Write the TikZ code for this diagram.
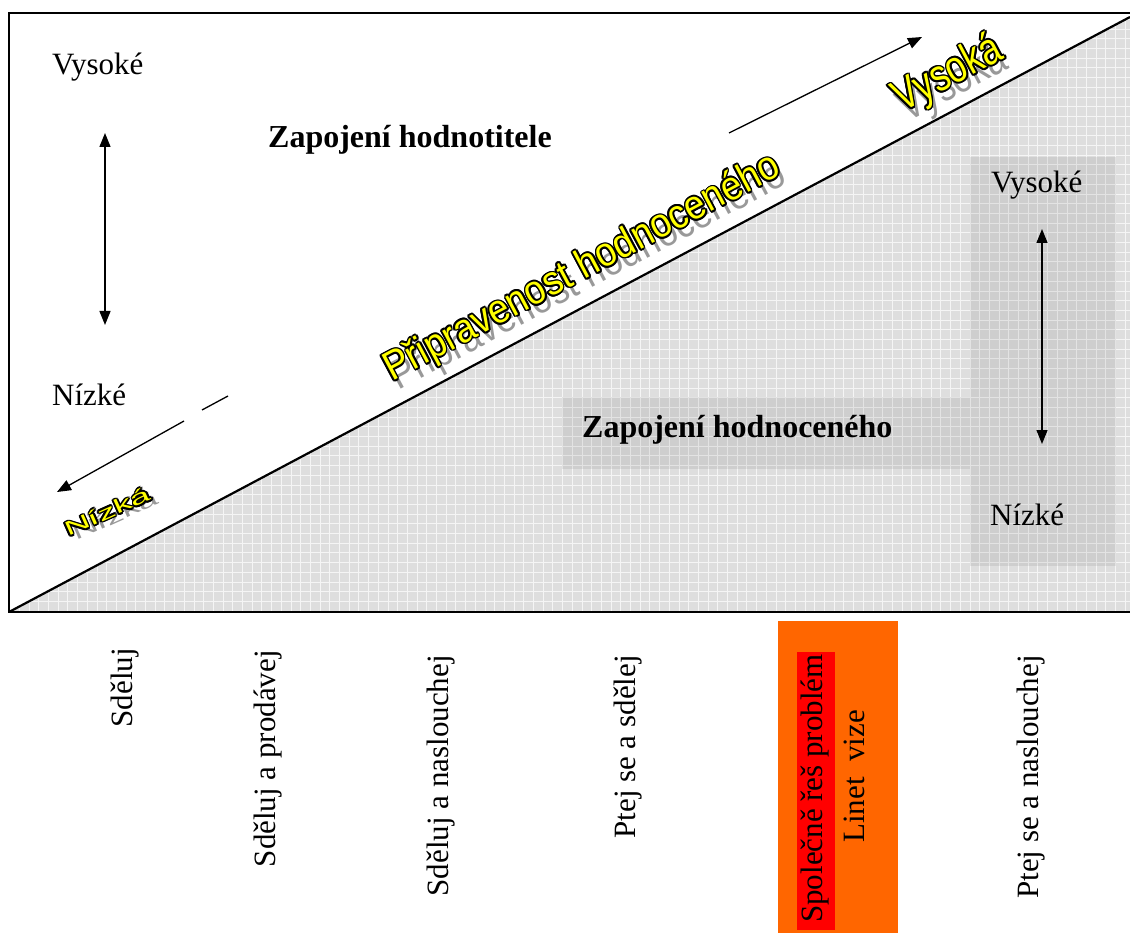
\documentclass[tikz,border=0pt]{standalone}
\usepackage{fontspec}
\setmainfont{Liberation Serif}
\newfontfamily\wafont{Liberation Sans}
\usetikzlibrary{arrows.meta,calc}
\definecolor{orng}{HTML}{FF6600}
\definecolor{wayellow}{HTML}{FFFF00}
\tikzset{
  txt/.style={inner sep=0pt, anchor=base west, font=\fontsize{31}{31}\selectfont},
  btxt/.style={inner sep=0pt, anchor=base west, font=\bfseries\fontsize{32}{32}\selectfont},
  rot/.style={inner sep=0pt, anchor=east, rotate=90, font=\fontsize{31}{31}\selectfont},
  arr/.style={line width=1.3pt, -{Triangle[length=14pt,width=11pt]}},
  darr/.style={line width=1.3pt, {Triangle[length=14pt,width=11pt]}-{Triangle[length=14pt,width=11pt]}},
  wash/.style={inner sep=0pt, anchor=base west, text=black!40, font=\wafont},
  waout/.style={inner sep=0pt, anchor=base west, text=black, font=\wafont},
  wafill/.style={inner sep=0pt, anchor=base west, text=wayellow, font=\wafont},
  panel/.style={fill=black, fill opacity=0.07, draw=none},
  frame/.style={line width=2.2pt, line cap=rect}
}
% #1 name, #2 base point, #3 shadow shift, #4 angle, #5 yscale, #6 size, #7 text
\newcommand\wart[7]{%
  \node[wash, rotate=#4, yscale=#5] (#1sh) at ($#2+#3$) {\fontsize{#6}{#6}\selectfont #7};
  \foreach \a in {0,30,...,330} {
    \node[waout, rotate=#4, yscale=#5] (#1o\a) at ($#2+(\a:1.7)$) {\fontsize{#6}{#6}\selectfont #7};
  }
  \node[wafill, rotate=#4, yscale=#5] (#1) at #2 {\fontsize{#6}{#6}\selectfont #7};
}
\begin{document}
\begin{tikzpicture}[x=1pt,y=-1pt]
\useasboundingbox (0,0) rectangle (1130,933);
\fill[white] (0,0) rectangle (1130,933);
% shaded triangle with grid
\begin{scope}
  \clip (9,611) -- (1130,17) -- (1130,612) -- cycle;
  \fill[black!13] (0,0) rectangle (1130,612);
  \draw[black!4, line width=0.9pt] (0,0) grid[step=9.7pt] (1130,612);
\end{scope}
% panels
\fill[panel] (970,157) rectangle (1116,566);
\fill[panel] (562,397) rectangle (970,469);
% diagonal and frame
\coordinate (o) at (9,612);
\coordinate (d) at (1130,17);
\draw[line width=2.2pt] (o) -- (d);
\draw[frame] (1130,13) -- (9,13) -- (9,612) -- (1130,612);
% left labels
\node[txt] (lv) at (52,75) {Vysoké};
\node[txt] (ln) at (52,405) {Nízké};
\coordinate (la1) at (105,133);
\coordinate (la2) at (105,325);
\draw[darr] (la1) -- (la2);
\node[btxt] (zh) at (268,148) {Zapojení hodnotitele};
% right labels
\node[txt] (rv) at (991,193) {Vysoké};
\node[txt] (rn) at (990,525) {Nízké};
\coordinate (ra1) at (1042,229);
\coordinate (ra2) at (1042,444);
\draw[darr] (ra1) -- (ra2);
\node[btxt] (zd) at (582,437) {Zapojení hodnoceného};
% diagonal arrows
\coordinate (ua1) at (729,133);
\coordinate (ua2) at (922,37);
\draw[arr] (ua1) -- (ua2);
\coordinate (da0) at (228,396);
\coordinate (da1) at (202,410);
\coordinate (da2) at (184,421);
\coordinate (da3) at (57,492);
\draw[line width=1.3pt] (da0) -- (da1);
\draw[arr] (da2) -- (da3);
% word art
\wart{p}{(392,382)}{(6,9)}{28}{1.1}{37}{Připravenost hodnoceného}
\wart{v}{(902,113)}{(5,10)}{28}{1.25}{36}{Vysoká}
\wart{n}{(68,537)}{(8,4)}{24}{0.55}{36}{Nízká}
% bottom labels
\node[rot] (b1) at (125,648) {Sděluj};
\node[rot] (b2) at (268,650) {Sděluj a prodávej};
\node[rot] (b3) at (441,655) {Sděluj a naslouchej};
\node[rot] (b4) at (628,655) {Ptej se a sdělej};
\fill[orng] (778,621) rectangle (898,933);
\fill[red] (797,652) rectangle (835,930);
\node[rot] (b5) at (815,654) {Společně řeš problém};
\node[rot] (b6) at (854,710) {Linet\ \ vize};
\node[rot] (b7) at (1031,655) {Ptej se a naslouchej};
\end{tikzpicture}
\end{document}
